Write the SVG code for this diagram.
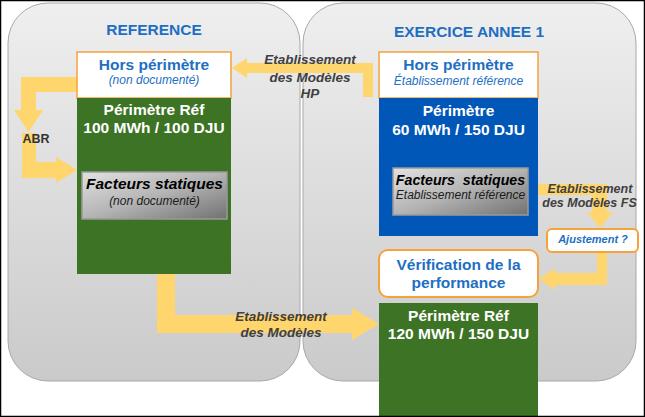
<svg xmlns="http://www.w3.org/2000/svg" width="645" height="417" viewBox="0 0 645 417">
<defs>
<linearGradient id="panel" x1="0" y1="0" x2="0" y2="1">
<stop offset="0" stop-color="#efefef"/>
<stop offset="1" stop-color="#cacaca"/>
</linearGradient>
<linearGradient id="fs" x1="0" y1="0" x2="1" y2="1">
<stop offset="0" stop-color="#e2e2e2"/>
<stop offset="0.5" stop-color="#b4b4b4"/>
<stop offset="1" stop-color="#717171"/>
</linearGradient>
<style>
.panel{fill:url(#panel);stroke:#a8a8a8;stroke-width:1}
.hdr{font-family:"Liberation Sans",Arial,sans-serif;font-weight:bold;font-size:15.5px;fill:#1e6fc3;text-anchor:middle}
.hors{fill:#ffffff;stroke:#f6a23c;stroke-width:1.5}
.t-blue{font-family:"Liberation Sans",Arial,sans-serif;font-weight:bold;font-size:15.5px;fill:#1e6fc3;text-anchor:middle}
.t-sub{font-family:"Liberation Sans",Arial,sans-serif;font-style:italic;font-size:12px;fill:#1e6fc3;text-anchor:middle}
.t-white{font-family:"Liberation Sans",Arial,sans-serif;font-weight:bold;font-size:15.5px;fill:#ffffff;text-anchor:middle}
.green{fill:#3d7325}
.blue{fill:#0057b8}
.fs{fill:url(#fs);stroke:#9a9a9a;stroke-width:1.5}
.t-fs{font-family:"Liberation Sans",Arial,sans-serif;font-weight:bold;font-style:italic;font-size:15.5px;fill:#000000;text-anchor:middle}
.t-fs2{font-family:"Liberation Sans",Arial,sans-serif;font-style:italic;font-size:12px;fill:#1a1a1a;text-anchor:middle}
.arrow{fill:#ffd56e}
.lbl{font-family:"Liberation Sans",Arial,sans-serif;font-weight:bold;font-style:italic;font-size:13.5px;fill:#404040;text-anchor:middle}
.rbox{fill:#ffffff;stroke:#f6a23c;stroke-width:2}
</style>
</defs>
<rect x="0" y="0" width="645" height="417" fill="#ffffff"/>
<g id="panel-reference">
<rect class="panel" x="8" y="3" width="292" height="378" rx="40" ry="40"/>
<text class="hdr" x="154" y="34.5">REFERENCE</text>
</g>
<g id="panel-exercice">
<rect class="panel" x="303" y="3" width="333" height="378" rx="40" ry="40"/>
<text class="hdr" x="469" y="37">EXERCICE ANNEE 1</text>
</g>
<g id="connectors">
<polygon class="arrow" points="373,97 373,63 247,63 247,58 232,68 247,78 247,73 363,73 363,97"/>
<polygon class="arrow" points="77,77 21,77 21,110 14,110 28.5,132 43,110 36,110 36,92 77,92"/>
<polygon class="arrow" points="22,133 22,178 56,178 56,183 77,170 56,157 56,162 36,162 36,133"/>
<polygon class="arrow" points="157,274 157,333 352,333 352,340 379,324 352,308 352,315 175,315 175,274"/>
<polygon class="arrow" points="528,184 607,184 607,212 613,212 600,228 587,212 592,212 592,195 528,195"/>
<polygon class="arrow" points="597,252 607,252 607,285 555,285 555,290 539,279 555,268 555,273 597,273"/>
<text class="lbl" x="310" y="64">Etablissement</text>
<text class="lbl" x="310" y="82">des Modèles</text>
<text class="lbl" x="310" y="98">HP</text>
<text class="lbl" x="281" y="321">Etablissement</text>
<text class="lbl" x="281" y="337">des Modèles</text>
<text class="lbl" x="590" y="193" style="font-size:12.5px">Etablissement</text>
<text class="lbl" x="589.5" y="207" style="font-size:12.5px">des Modèles FS</text>
<text x="36" y="143" style="font-family:'Liberation Sans',Arial,sans-serif;font-weight:bold;font-size:12.5px;fill:#333333;text-anchor:middle">ABR</text>
</g>
<g id="ref-hors">
<rect class="hors" x="77" y="52" width="154" height="46"/>
<text class="t-blue" x="154" y="69.5">Hors périmètre</text>
<text class="t-sub" x="154" y="84">(non documenté)</text>
</g>
<g id="ref-perimetre">
<rect class="green" x="77" y="98" width="154" height="176"/>
<text class="t-white" x="154" y="115">Périmètre Réf</text>
<text class="t-white" x="154" y="133">100 MWh / 100 DJU</text>
</g>
<g id="ref-facteurs">
<rect class="fs" x="82" y="172" width="145" height="47"/>
<text class="t-fs" x="154.5" y="189">Facteurs statiques</text>
<text class="t-fs2" x="154.5" y="205">(non documenté)</text>
</g>
<g id="ex-hors">
<rect class="hors" x="379" y="52" width="159" height="46"/>
<text class="t-blue" x="458.5" y="69.5">Hors périmètre</text>
<text class="t-sub" x="458.5" y="85">Établissement référence</text>
</g>
<g id="ex-perimetre">
<rect class="blue" x="379" y="98" width="159" height="138"/>
<text class="t-white" x="458.5" y="116">Périmètre</text>
<text class="t-white" x="458.5" y="135">60 MWh / 150 DJU</text>
</g>
<g id="ex-facteurs">
<rect class="fs" x="393" y="168" width="135" height="47"/>
<text class="t-fs" x="460.5" y="185" style="font-size:14.2px" xml:space="preserve">Facteurs  statiques</text>
<text class="t-fs2" x="460.5" y="199">Etablissement référence</text>
</g>
<g id="ajustement">
<rect class="rbox" x="547" y="229" width="91" height="23" rx="5" ry="5"/>
<text x="593" y="243" style="font-family:'Liberation Sans',Arial,sans-serif;font-weight:bold;font-style:italic;font-size:11px;fill:#1e6fc3;text-anchor:middle">Ajustement ?</text>
</g>
<g id="verification">
<rect class="rbox" x="379" y="250" width="159" height="47" rx="9" ry="9"/>
<text class="t-blue" x="458.5" y="270">Vérification de la</text>
<text class="t-blue" x="458.5" y="288">performance</text>
</g>
<g id="ex-perimetre-ref">
<rect class="green" x="379" y="303" width="159" height="114"/>
<text class="t-white" x="458.5" y="321">Périmètre Réf</text>
<text class="t-white" x="458.5" y="339">120 MWh / 150 DJU</text>
</g>
<rect x="0.5" y="0.5" width="644" height="416" fill="none" stroke="#000000" stroke-width="1.5"/>
</svg>
